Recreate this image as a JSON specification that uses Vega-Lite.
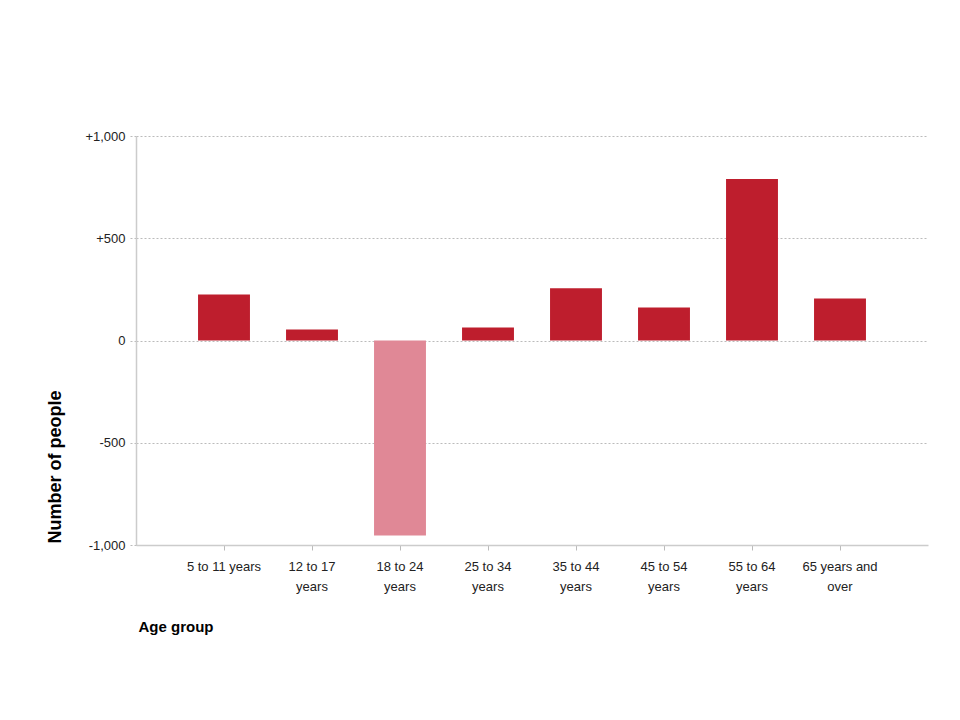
{
  "$schema": "https://vega.github.io/schema/vega-lite/v6.json",
  "width": 792,
  "height": 409,
  "autosize": "none",
  "padding": {"left": 136, "top": 136, "right": 32, "bottom": 175},
  "background": "white",
  "data": {
    "values": [
      {"age": "5 to 11 years", "value": 225},
      {"age": "12 to 17 years", "value": 54},
      {"age": "18 to 24 years", "value": -953},
      {"age": "25 to 34 years", "value": 64},
      {"age": "35 to 44 years", "value": 256},
      {"age": "45 to 54 years", "value": 161},
      {"age": "55 to 64 years", "value": 790},
      {"age": "65 years and over", "value": 205}
    ]
  },
  "config": {
    "view": {"stroke": null},
    "font": "Liberation Sans"
  },
  "mark": {"type": "bar"},
  "encoding": {
    "x": {
      "field": "age",
      "type": "nominal",
      "sort": null,
      "scale": {"paddingInner": 0.41, "paddingOuter": 0.705},
      "axis": {
        "title": "Age group",
        "titleFont": "Liberation Sans",
        "titleFontSize": 15,
        "titleFontWeight": "bold",
        "titleColor": "#000000",
        "titleAnchor": "start",
        "titleAlign": "left",
        "titleBaseline": "middle",
        "titleX": 2,
        "titleY": 81,
        "labelAngle": 0,
        "labelFontSize": 13,
        "labelColor": "#222222",
        "labelBaseline": "top",
        "labelPadding": 10,
        "labelLineHeight": 20,
        "labelExpr": "datum.label == '5 to 11 years' ? datum.label : datum.label == '65 years and over' ? ['65 years and', 'over'] : [slice(datum.label, 0, 8), 'years']",
        "tickSize": 5,
        "tickColor": "#bbbbbb",
        "domainColor": "#cccccc",
        "domainWidth": 1.5,
        "grid": false
      }
    },
    "y": {
      "field": "value",
      "type": "quantitative",
      "scale": {"domain": [-1000, 1000], "nice": false},
      "axis": {
        "title": "Number of people",
        "titleFont": "Liberation Sans",
        "titleFontSize": 18,
        "titleFontWeight": "bold",
        "titleColor": "#000000",
        "titleAngle": -90,
        "titleAlign": "left",
        "titleBaseline": "middle",
        "titleX": -81,
        "titleY": 407,
        "values": [-1000, -500, 0, 500, 1000],
        "labelExpr": "datum.value > 0 ? '+' + format(datum.value, ',') : datum.value < 0 ? '-' + format(-datum.value, ',') : '0'",
        "labelFontSize": 13,
        "labelColor": "#222222",
        "labelPadding": 3,
        "tickSize": 8,
        "tickColor": "#bbbbbb",
        "tickDash": [2, 2],
        "domainColor": "#cccccc",
        "domainWidth": 1.5,
        "grid": true,
        "gridColor": "#bbbbbb",
        "gridDash": [2, 2]
      }
    },
    "color": {
      "condition": {"test": "datum.value < 0", "value": "#e08896"},
      "value": "#be1e2d"
    }
  }
}
